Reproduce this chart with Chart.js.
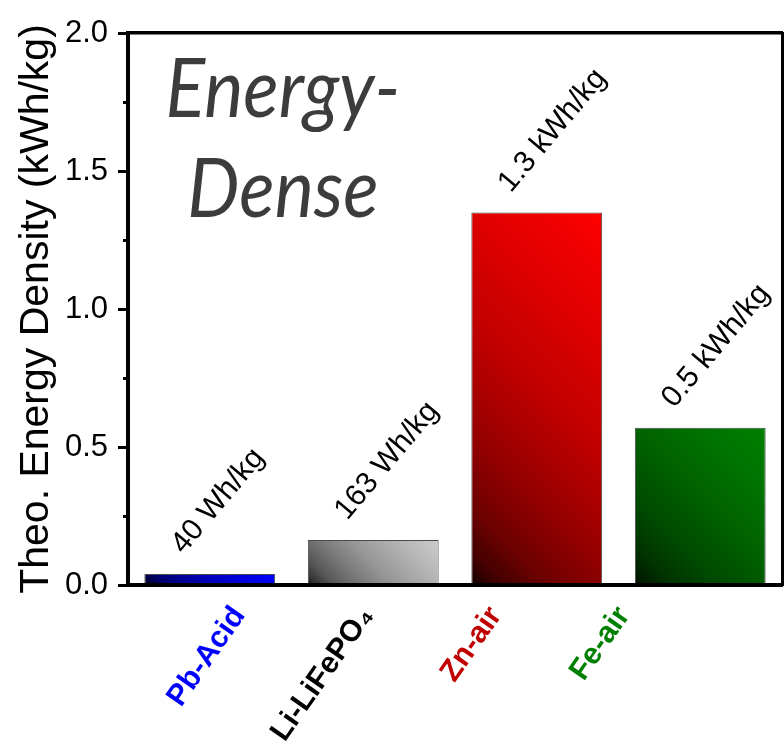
<!DOCTYPE html>
<html>
<head>
<meta charset="utf-8">
<title>Theoretical energy density</title>
<script src="https://cdn.jsdelivr.net/npm/chart.js@4.4.1/dist/chart.umd.min.js"></script>
<style>
  html, body { margin: 0; padding: 0; background: #ffffff; }
  #wrap { width: 784px; height: 744px; }
</style>
</head>
<body>
<div id="wrap"><canvas id="chart" width="784" height="744"></canvas></div>
<script>
// ---- data -------------------------------------------------------------
const categories    = ['Pb-Acid', 'Li-LiFePO\u2084', 'Zn-air', 'Fe-air'];
const energyDensity = [0.040, 0.163, 1.35, 0.57];          // kWh/kg
const barColors     = ['#0000ff', '#cccccc', '#ff0000', '#008000'];
const nameColors    = ['#0000ff', '#000000', '#c00000', '#008000'];
const yMajorTicks   = [0, 0.5, 1.0, 1.5, 2.0];
const yMinorTicks   = [0.25, 0.75, 1.25, 1.75];

const FONT = "'Liberation Sans', Arial, Helvetica, sans-serif";

// value text written above each bar
function formatEnergy(v) {
  if (v >= 0.5) return (Math.floor(v * 10) / 10).toFixed(1) + ' kWh/kg';
  return Math.round(v * 1000) + ' Wh/kg';
}

function hexToRgb(hex) {
  const n = parseInt(hex.slice(1), 16);
  return [(n >> 16) & 255, (n >> 8) & 255, n & 255];
}

// diagonal shading: dark in the lower-left corner, full colour in the upper-right
function barGradient(c) {
  const chart = c.chart;
  const i = c.dataIndex;
  const xs = chart.scales.x, ys = chart.scales.y;
  if (i === undefined || !xs || !ys || !chart.chartArea) return barColors[i] || '#888';
  const cx = xs.getPixelForValue(i);
  const half = xs.width / categories.length * 0.8 / 2;
  const left = cx - half, right = cx + half;
  const top = ys.getPixelForValue(energyDensity[i]);
  const bottom = ys.getPixelForValue(0);
  const d = ((right - left) + (bottom - top)) / 2;
  const g = chart.ctx.createLinearGradient(left, bottom, left + d, bottom - d);
  const [r, gg, b] = hexToRgb(barColors[i]);
  const shade = k => `rgb(${Math.round(r * k)},${Math.round(gg * k)},${Math.round(b * k)})`;
  [[0, 0.06], [0.05, 0.24], [0.15, 0.42], [0.3, 0.58], [0.5, 0.74], [0.75, 0.88], [1, 1]]
    .forEach(([t, k]) => g.addColorStop(t, shade(k)));
  return g;
}

// rotated value labels above the bars
const valueLabels = {
  id: 'valueLabels',
  afterDatasetsDraw(chart) {
    const ctx = chart.ctx;
    const meta = chart.getDatasetMeta(0);
    ctx.save();
    ctx.font = `30px ${FONT}`;
    ctx.fillStyle = '#000000';
    ctx.textAlign = 'left';
    ctx.textBaseline = 'alphabetic';
    meta.data.forEach((bar, i) => {
      ctx.save();
      ctx.translate(bar.x - 26, bar.y - 19);
      ctx.rotate(-50 * Math.PI / 180);
      ctx.fillText(formatEnergy(energyDensity[i]), 0, 0);
      ctx.restore();
    });
    ctx.restore();
  }
};

// large italic caption inside the plot
const panelCaption = {
  id: 'panelCaption',
  afterDraw(chart) {
    const { ctx, chartArea } = chart;
    ctx.save();
    ctx.fillStyle = '#3c3c3c';
    ctx.textAlign = 'center';
    ctx.textBaseline = 'alphabetic';
    ctx.font = "italic 82px Lato, 'Open Sans', sans-serif";
    ctx.translate(chartArea.left + 155, 0);
    ctx.scale(0.9, 1);
    ctx.fillText('Energy-', 0, chartArea.top + 84);
    ctx.fillText('Dense', 0, chartArea.top + 184);
    ctx.restore();
  }
};

const isMajor = v => yMajorTicks.some(t => Math.abs(t - v) < 1e-9);

new Chart(document.getElementById('chart'), {
  type: 'bar',
  data: {
    labels: categories,
    datasets: [{
      data: energyDensity,
      xAxisID: 'x',
      yAxisID: 'y',
      backgroundColor: barGradient,
      borderColor: '#4a4a4a',
      borderWidth: 1,
      categoryPercentage: 1.0,
      barPercentage: 0.8
    }]
  },
  options: {
    responsive: false,
    animation: false,
    events: [],
    layout: { padding: { top: 33, right: 2, bottom: 0, left: 12 } },
    plugins: {
      legend: { display: false },
      title: { display: false },
      tooltip: { enabled: false }
    },
    scales: {
      x: {
        type: 'category',
        position: 'bottom',
        offset: true,
        grid: { display: false, drawTicks: false },
        border: { display: true, width: 4, color: '#000000', z: 1 },
        ticks: { display: false }
      },
      // category names sit on their own axis, slightly tighter than the bars
      xNames: {
        type: 'linear',
        position: 'bottom',
        weight: 1,
        offset: false,
        min: -0.8674,
        max: 4.234,
        afterBuildTicks: s => { s.ticks = categories.map((_, i) => ({ value: i })); },
        afterFit: s => { s.height = 159; },
        grid: { display: false, drawTicks: false, offset: false },
        border: { display: false },
        ticks: {
          autoSkip: false,
          minRotation: 55,
          maxRotation: 55,
          padding: 15,
          callback: v => categories[v],
          color: c => nameColors[c.index],
          font: { family: FONT, size: 30, weight: 'bold' }
        }
      },
      xTop: {
        type: 'linear',
        position: 'top',
        min: 0, max: 1,
        grid: { display: false, drawTicks: false },
        border: { display: true, width: 3.5, color: '#000000' },
        ticks: { display: false }
      },
      y: {
        type: 'linear',
        position: 'left',
        min: 0,
        max: 2,
        afterBuildTicks: s => {
          s.ticks = yMajorTicks.concat(yMinorTicks).sort((a, b) => a - b).map(v => ({ value: v }));
        },
        afterFit: s => { s.width = 116; },
        ticks: {
          autoSkip: false,
          padding: 10,
          color: '#000000',
          font: { family: FONT, size: 31 },
          callback: v => (isMajor(v) ? v.toFixed(1) : '')
        },
        grid: {
          display: true,
          drawOnChartArea: false,
          drawTicks: true,
          tickLength: 10,
          tickWidth: 3,
          tickColor: '#000000',
          tickBorderDash: c => (c.tick && isMajor(c.tick.value) ? [] : [0, 5, 10, 0])
        },
        border: { display: true, width: 4, color: '#000000' },
        title: {
          display: true,
          text: 'Theo. Energy Density (kWh/kg)',
          color: '#000000',
          font: { family: FONT, size: 41, lineHeight: 1.2 },
          padding: { top: 0, bottom: 0 }
        }
      },
      yRight: {
        type: 'linear',
        position: 'right',
        min: 0, max: 2,
        grid: { display: false, drawTicks: false },
        border: { display: true, width: 3, color: '#000000' },
        ticks: { display: false }
      }
    }
  },
  plugins: [valueLabels, panelCaption]
});
</script>
</body>
</html>
